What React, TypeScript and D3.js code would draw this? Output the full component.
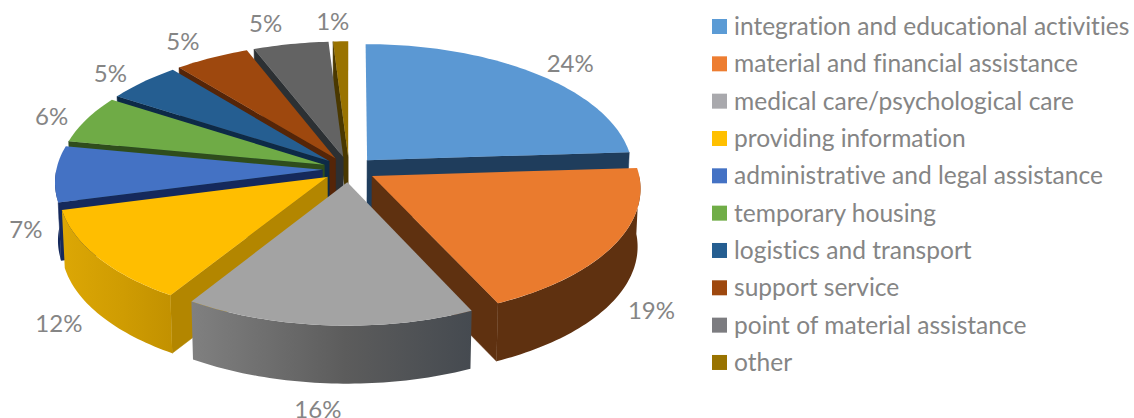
import React from "react";
import * as d3 from "d3";

const categories = [
  "integration and educational activities",
  "material and financial assistance",
  "medical care/psychological care",
  "providing information",
  "administrative and legal assistance",
  "temporary housing",
  "logistics and transport",
  "support service",
  "point of material assistance",
  "other",
];
const values = [24, 19, 16, 12, 7, 6, 5, 5, 5, 1];
const topColors = ["#5b98d3", "#ea7b2e", "#a3a3a3", "#ffbe00", "#4472c4", "#6fab46", "#255e91", "#9e480e", "#636363", "#997300"];
const legendColors = ["#5b9bd5", "#ed7d31", "#a9a9ad", "#ffc000", "#4472c4", "#70ad47", "#255e91", "#9e480e", "#7c7c80", "#997300"];
const wallColors = ["#1f3d5c", "#5f3110", "#55585c", "#b38600", "#15295c", "#2f4d1c", "#0d2a47", "#552508", "#2c3033", "#4a3800"];
const outerLeft = ["#1f3d5c", "#5f3110", "#808080", "#dca705", "#15295c", "#2f4d1c", "#0d2a47", "#552508", "#2c3033", "#4a3800"];
const outerMid = ["#1f3d5c", "#5f3110", "#5c5c5c", "#cf9c02", "#15295c", "#2f4d1c", "#0d2a47", "#552508", "#2c3033", "#4a3800"];
const outerRight = ["#1f3d5c", "#5f3110", "#454a50", "#c29100", "#15295c", "#2f4d1c", "#0d2a47", "#552508", "#2c3033", "#4a3800"];
const drawOrder = [9, 8, 7, 6, 5, 4, 0, 3, 1, 2];
const labelNudgeX = [14, 4, -8, -7, 5, -5, -10, -14, -19, -7];
const labelNudgeY = [-1, -3, 4, -4, -4, 2, 0, -5, -8, -7];

const cx = 349, cy = 169.4, R = 266, Ry = 128, tilt = 0.09, explode = 0.1, depth = 58;
const TEXT = "#858585";
const FONT = "Lato, sans-serif";

type P = [number, number];
const project = (X: number, Y: number): P => {
  const p = 1 / (1 + tilt * Y);
  return [cx + R * X * p, cy - Ry * Y * p];
};
const drop = ([x, y]: P): P => [cx + (x - cx) * 0.99, y + depth];

const arcs = d3.pie<number>().sort(null)(values);

const line = d3.line<P>();

function pointOn(mid: number, a: number, f = 1): P {
  return project(explode * Math.sin(mid) + f * Math.sin(a), explode * Math.cos(mid) + f * Math.cos(a));
}

function sample(a0: number, a1: number, mid: number): P[] {
  const n = Math.max(2, Math.ceil(Math.abs(a1 - a0) / 0.02));
  return d3.range(n + 1).map((i) => pointOn(mid, a0 + ((a1 - a0) * i) / n));
}

export default function App() {
  return (
    <svg width={1134} height={418} style={{ position: "absolute", left: 0, top: 0, background: "#fff" }}>
      <defs>
        {categories.map((_, i) => (
          <linearGradient key={i} id={`wall${i}`} x1="0" x2="1" y1="0" y2="0">
            <stop offset="0" stopColor={outerLeft[i]} />
            <stop offset="0.55" stopColor={outerMid[i]} />
            <stop offset="1" stopColor={outerRight[i]} />
          </linearGradient>
        ))}
      </defs>
      {drawOrder.map((i) => {
        const { startAngle: a0, endAngle: a1 } = arcs[i];
        const mid = (a0 + a1) / 2;
        const apex = pointOn(mid, 0, 0);
        const rim = sample(a0, a1, mid);
        const top = [apex, ...rim];
        const s0 = rim[0], s1 = rim[rim.length - 1];
        const walls: React.ReactNode[] = [];
        if (Math.sin(a0) < 0) {
          walls.push(<path key="s" d={line([apex, s0, drop(s0), drop(apex)])! + "Z"} fill={wallColors[i]} stroke={wallColors[i]} strokeWidth={0.5} />);
        }
        if (Math.sin(a1) > 0.001) {
          walls.push(<path key="e" d={line([apex, s1, drop(s1), drop(apex)])! + "Z"} fill={wallColors[i]} stroke={wallColors[i]} strokeWidth={0.5} />);
        }
        const lo = Math.max(a0, Math.PI / 2), hi = Math.min(a1, (3 * Math.PI) / 2);
        if (hi > lo) {
          const o = sample(lo, hi, mid);
          walls.push(<path key="o" d={line([...o, ...o.slice().reverse().map(drop)])! + "Z"} fill={`url(#wall${i})`} />);
        }
        return (
          <g key={i}>
            {walls}
            <path d={line(top)! + "Z"} fill={topColors[i]} />
          </g>
        );
      })}
      {arcs.map((d, i) => {
        const mid = (d.startAngle + d.endAngle) / 2;
        const [x, y] = pointOn(mid, mid, 1.13);
        const front = Math.cos(mid) < 0;
        return (
          <text key={i} x={x + labelNudgeX[i]} y={y + (front ? depth : 0) + labelNudgeY[i]} textAnchor="middle" dominantBaseline="central" fontFamily={FONT} fontSize={24} fill={TEXT}>
            {d3.format(".0f")(d.value)}%
          </text>
        );
      })}
      {categories.map((c, i) => {
        const y = 19 + i * 37.33;
        return (
          <g key={c}>
            <rect x={712} y={y} width={15} height={15} fill={legendColors[i]} />
            <text x={734} y={y + 16} fontFamily={FONT} fontSize={24.55} fill={TEXT} style={{ fontVariantLigatures: "none" }}>
              {c}
            </text>
          </g>
        );
      })}
    </svg>
  );
}
